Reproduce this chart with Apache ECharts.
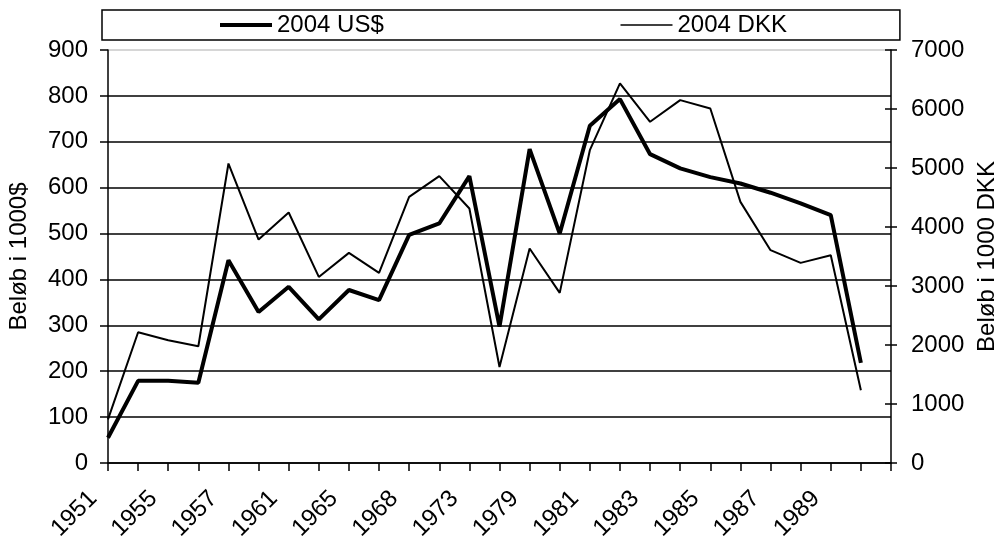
<!DOCTYPE html>
<html>
<head>
<meta charset="utf-8">
<script src="https://cdn.jsdelivr.net/npm/echarts@6/dist/echarts.min.js"></script>
<style>
  html, body { margin: 0; padding: 0; background: #fff; }
  #main { width: 998px; height: 538px; }
</style>
</head>
<body>
<div id="main"></div>
<script>
// år (kun hvert andet vises på aksen)
var years = ['1951', '1953', '1955', '1956', '1957', '1959', '1961', '1963', '1965', '1966',
  '1968', '1970', '1973', '1976', '1979', '1980', '1981', '1982', '1983', '1984',
  '1985', '1986', '1987', '1988', '1989', '1990', ''];
// Beløb i 1000$ (venstre akse)
var usd = [55, 179, 179, 175, 442, 329, 384, 313, 377, 355,
  497, 522, 625, 297, 684, 500, 735, 793, 673, 642,
  623, 609, 589, 566, 540, 218, null];
// Beløb i 1000 DKK (højre akse)
var dkk = [740, 2216, 2080, 1979, 5076, 3787, 4245, 3154, 3561, 3222,
  4511, 4862, 4313, 1628, 3635, 2883, 5302, 6433, 5783, 6150,
  6009, 4426, 3607, 3392, 3522, 1232, null];
var seriesNames = ['2004 US$', '2004 DKK'];
var leftAxis = { min: 0, max: 900, step: 100 };
var rightAxis = { min: 0, max: 7000, step: 1000 };

var font = 'Liberation Sans, Arial, sans-serif';
var fs = 24;

var gridColors = [];
for (var i = 0; i < 9; i++) gridColors.push('#000');
gridColors.push('#c8c8c8');

var myChart = echarts.init(document.getElementById('main'), null, { renderer: 'canvas' });
var option = {
  animation: false,
  backgroundColor: '#fff',
  textStyle: { fontFamily: font, color: '#000' },
  grid: { left: 108, right: 107, top: 50, bottom: 75, containLabel: false, outerBoundsMode: 'none' },
  legend: {
    left: 102,
    top: 10,
    data: [
      { name: seriesNames[0], lineStyle: { width: 4, color: '#000' } },
      { name: seriesNames[1], lineStyle: { width: 1.5, color: '#000' } }
    ],
    itemWidth: 52,
    itemHeight: 14,
    itemGap: 236,
    padding: [3, 113, 3, 116],
    borderColor: '#000',
    borderWidth: 1.5,
    borderRadius: 0,
    itemStyle: { opacity: 0 },
    textStyle: { fontFamily: font, fontSize: fs, color: '#000' }
  },
  xAxis: {
    type: 'category',
    boundaryGap: false,
    data: years,
    axisLine: { show: true, lineStyle: { color: '#000', width: 1.5 } },
    axisTick: { show: true, interval: 0, length: 8, lineStyle: { color: '#000', width: 1.5 } },
    axisLabel: {
      interval: 1,
      rotate: 45,
      fontSize: fs,
      fontFamily: font,
      color: '#000',
      margin: 17,
      padding: [0, 21, 0, 0]
    },
    splitLine: { show: false }
  },
  yAxis: [
    {
      type: 'value',
      position: 'left',
      min: leftAxis.min,
      max: leftAxis.max,
      interval: leftAxis.step,
      name: 'Beløb i 1000$',
      nameLocation: 'middle',
      nameRotate: 90,
      nameGap: 77,
      nameTextStyle: { fontSize: fs, fontFamily: font, color: '#000' },
      axisLine: { show: true, lineStyle: { color: '#000', width: 1.5 } },
      axisTick: { show: true, length: 8, lineStyle: { color: '#000', width: 1.5 } },
      axisLabel: { fontSize: fs, fontFamily: font, color: '#000', margin: 20 },
      splitLine: { show: true, lineStyle: { color: gridColors, width: 1.5 } }
    },
    {
      type: 'value',
      position: 'right',
      min: rightAxis.min,
      max: rightAxis.max,
      interval: rightAxis.step,
      name: 'Beløb i 1000 DKK',
      nameLocation: 'middle',
      nameRotate: 90,
      nameGap: 84,
      nameTextStyle: { fontSize: fs, fontFamily: font, color: '#000' },
      axisLine: { show: true, lineStyle: { color: '#000', width: 1.5 } },
      axisTick: { show: true, length: 6, lineStyle: { color: '#000', width: 1.5 } },
      axisLabel: {
        fontSize: fs, fontFamily: font, color: '#000', margin: 20,
        formatter: function (v) { return String(v); }
      },
      splitLine: { show: false }
    },
    {
      // indvendige streger på højre akse (krydsende ticks)
      type: 'value',
      position: 'right',
      min: rightAxis.min,
      max: rightAxis.max,
      interval: rightAxis.step,
      axisLine: { show: false },
      axisTick: { show: true, inside: true, length: 6, lineStyle: { color: '#000', width: 1.5 } },
      axisLabel: { show: false },
      splitLine: { show: false }
    }
  ],
  series: [
    {
      name: seriesNames[0],
      type: 'line',
      yAxisIndex: 0,
      data: usd,
      symbol: 'none',
      lineStyle: { color: '#000', width: 4 },
      itemStyle: { color: '#000' }
    },
    {
      name: seriesNames[1],
      type: 'line',
      yAxisIndex: 1,
      data: dkk,
      symbol: 'none',
      lineStyle: { color: '#000', width: 2 },
      itemStyle: { color: '#000' }
    }
  ]
};
myChart.setOption(option);
</script>
</body>
</html>
